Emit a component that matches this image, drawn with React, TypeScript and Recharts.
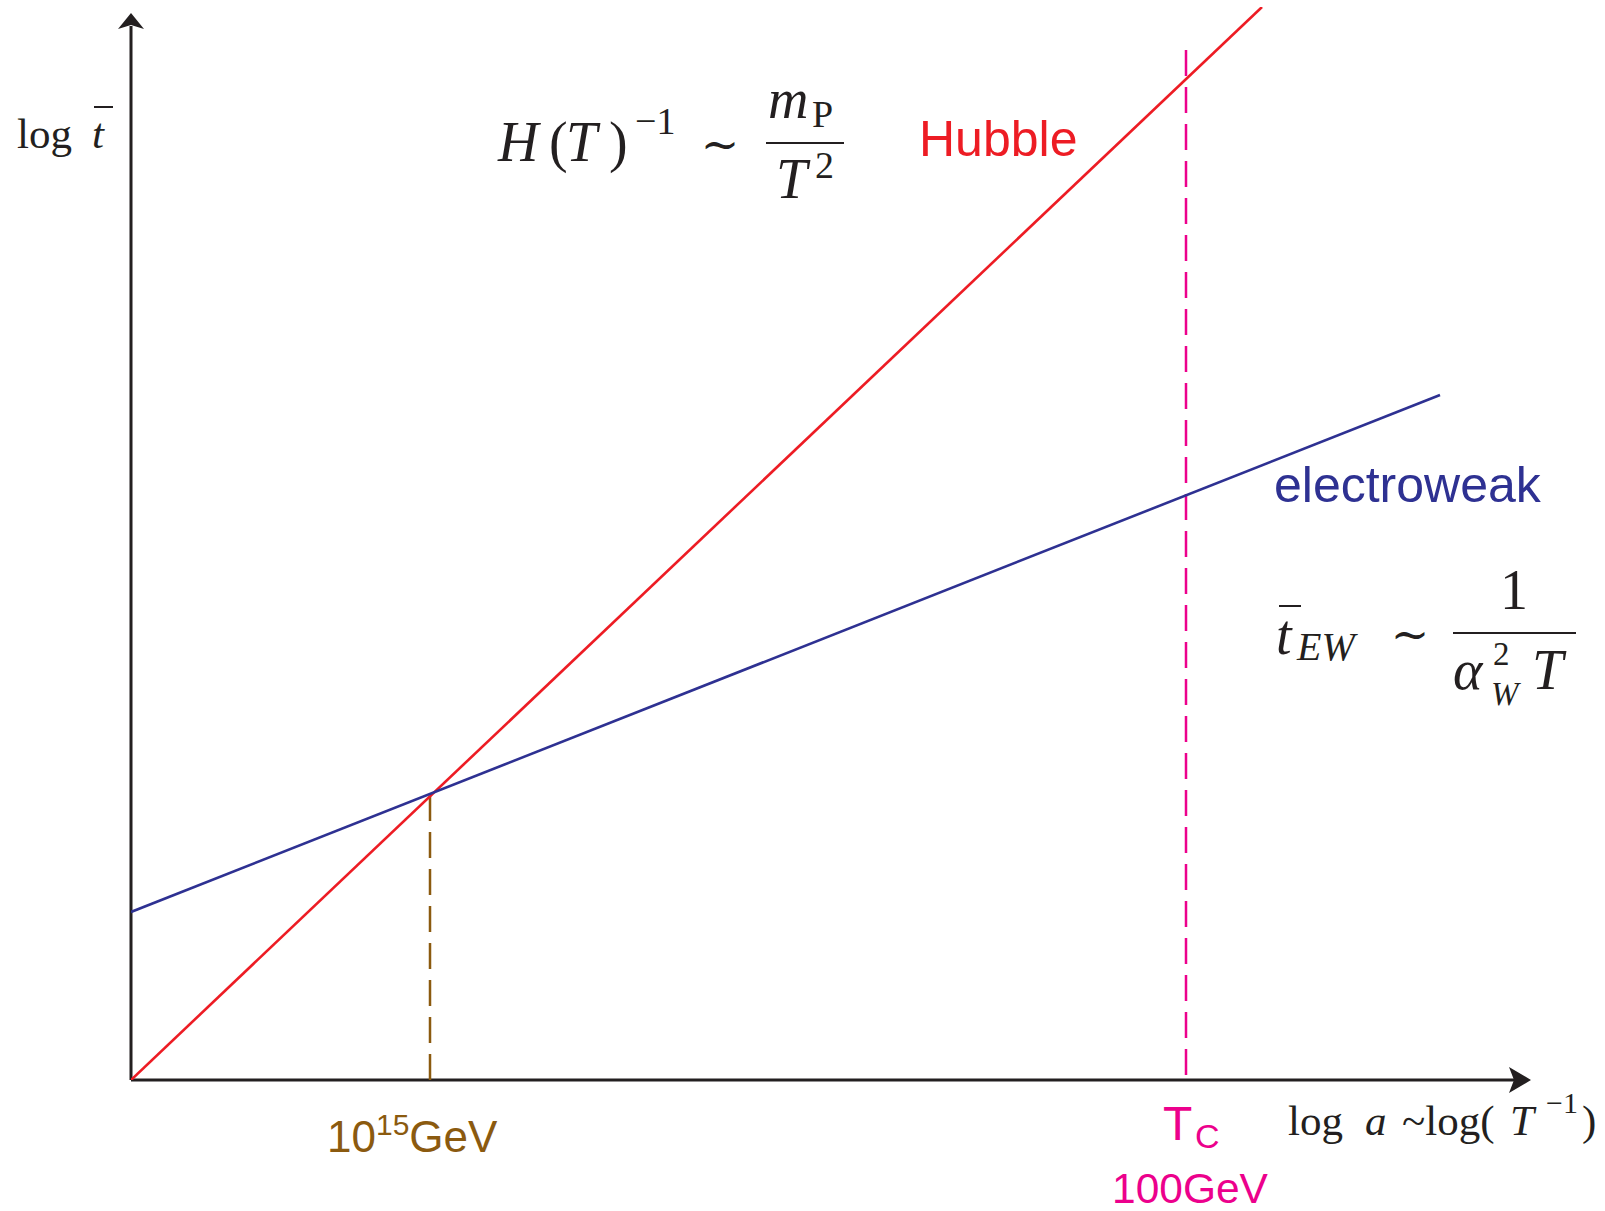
import React from 'react';
import { LineChart, Line, XAxis, YAxis, ReferenceLine, ReferenceDot } from 'recharts';

// log(T^-1) on x, log t on y (arbitrary units)
const hubble = [
  { x: 0, y: 0 },
  { x: 11.31, y: 10.73 },
];
const electroweak = [
  { x: 0, y: 1.68 },
  { x: 13.09, y: 6.85 },
];

// where the two curves cross (GUT scale) and the electroweak transition
const gutX = 2.99;
const gutY = 2.84;
const tcX = 10.55;
const tcTop = 10.38;

const xDomain = [0, 14];
const yDomain = [0, 10.73];
const yArrowTip = 10.67;
const xTicks = [gutX, tcX];

const INK = '#231f20';
const RED = '#ed1c24';
const BLUE = '#2e3192';
const MAGENTA = '#ec008c';
const BROWN = '#8b5a0f';
const SERIF = "'Liberation Serif', 'DejaVu Serif', serif";
const SANS = "'Liberation Sans', Arial, sans-serif";
const TILDE_FONT = "'DejaVu Serif', serif";

const RightArrow = (props: any) => {
  const { cx, cy } = props;
  return (
    <polygon
      points={`${cx},${cy} ${cx - 22},${cy - 13} ${cx - 17},${cy} ${cx - 22},${cy + 13}`}
      fill={INK}
    />
  );
};

const UpArrow = (props: any) => {
  const { cx, cy } = props;
  return (
    <polygon
      points={`${cx},${cy} ${cx - 13},${cy + 16} ${cx},${cy + 12} ${cx + 13},${cy + 16}`}
      fill={INK}
    />
  );
};

// labels under the x axis at the two marked temperatures
const BottomTick = (props: any) => {
  const { x, y, payload } = props;
  if (payload.value === gutX) {
    return (
      <text x={x - 103} y={y + 72} fill={BROWN} fontFamily={SANS} fontSize={44}>
        10
        <tspan fontSize={30} dy={-17}>15</tspan>
        <tspan dy={17}>GeV</tspan>
      </text>
    );
  }
  return (
    <g fill={MAGENTA} fontFamily={SANS}>
      <text x={x - 23} y={y + 60} fontSize={48}>T</text>
      <text x={x + 9} y={y + 68} fontSize={34}>C</text>
      <text x={x - 74} y={y + 123} fontSize={42.5}>100GeV</text>
    </g>
  );
};

function Annotations() {
  return (
    <svg
      width={1605}
      height={1211}
      style={{ position: 'absolute', left: 0, top: 0, pointerEvents: 'none' }}
    >
      {/* y axis label */}
      <g fill={INK} fontFamily={SERIF} fontSize={43}>
        <text x={17} y={148}>log</text>
        <text x={92} y={148} fontStyle="italic">t</text>
        <line x1={94} y1={107} x2={113} y2={107} stroke={INK} strokeWidth={2} />
      </g>

      {/* H(T)^-1 ~ m_P / T^2 */}
      <g fill={INK} fontFamily={SERIF} fontSize={56}>
        <text x={498} y={161} fontStyle="italic">H</text>
        <text x={549} y={161}>(</text>
        <text x={566} y={161} fontStyle="italic">T</text>
        <text x={609} y={161}>)</text>
        <text x={635} y={134} fontSize={38}>−1</text>
        <text x={720} y={160} fontSize={46} fontFamily={TILDE_FONT} textAnchor="middle">∼</text>
        <line x1={766} y1={143} x2={844} y2={143} stroke={INK} strokeWidth={1.8} />
        <text x={768} y={118} fontStyle="italic">m</text>
        <text x={812} y={127} fontSize={38}>P</text>
        <text x={776} y={198} fontStyle="italic">T</text>
        <text x={815} y={178} fontSize={38}>2</text>
      </g>

      <text x={919} y={156} fill={RED} fontFamily={SANS} fontSize={50}>Hubble</text>
      <text x={1274} y={502} fill={BLUE} fontFamily={SANS} fontSize={50}>electroweak</text>

      {/* t_EW ~ 1 / (alpha_W^2 T) */}
      <g fill={INK} fontFamily={SERIF} fontSize={56}>
        <text x={1276} y={654} fontStyle="italic">t</text>
        <line x1={1279} y1={606} x2={1301} y2={606} stroke={INK} strokeWidth={2} />
        <text x={1297} y={660} fontSize={40} fontStyle="italic">EW</text>
        <text x={1410} y={650} fontSize={46} fontFamily={TILDE_FONT} textAnchor="middle">∼</text>
        <line x1={1453} y1={633} x2={1576} y2={633} stroke={INK} strokeWidth={1.8} />
        <text x={1514} y={609} textAnchor="middle">1</text>
        <text x={1453} y={689} fontStyle="italic">α</text>
        <text x={1493} y={665} fontSize={33}>2</text>
        <text x={1491} y={705} fontSize={33} fontStyle="italic">W</text>
        <text x={1532} y={689} fontStyle="italic">T</text>
      </g>

      {/* x axis label */}
      <g fill={INK} fontFamily={SERIF} fontSize={43}>
        <text x={1288} y={1135}>log</text>
        <text x={1365} y={1135} fontStyle="italic">a</text>
        <text x={1402} y={1135}>~log(</text>
        <text x={1510} y={1135} fontStyle="italic">T</text>
        <text x={1546} y={1113} fontSize={30}>−1</text>
        <text x={1582} y={1135}>)</text>
      </g>
    </svg>
  );
}

export default function App() {
  return (
    <div style={{ position: 'absolute', left: 0, top: 0, width: 1605, height: 1211, background: '#fff' }}>
      <LineChart
        width={1605}
        height={1211}
        margin={{ top: 7, right: 74, left: 131, bottom: 0 }}
      >
        <XAxis
          type="number"
          dataKey="x"
          domain={xDomain}
          ticks={xTicks}
          interval={0}
          height={131}
          axisLine={false}
          tickLine={false}
          tickSize={0}
          tickMargin={0}
          tick={<BottomTick />}
          allowDataOverflow
        />
        <YAxis type="number" dataKey="y" domain={yDomain} hide allowDataOverflow />

        {/* axes with arrowheads */}
        <ReferenceLine
          segment={[{ x: 0, y: 0 }, { x: xDomain[1] - 0.17, y: 0 }]}
          stroke={INK}
          strokeWidth={3}
          ifOverflow="visible"
        />
        <ReferenceLine
          segment={[{ x: 0, y: 0 }, { x: 0, y: yArrowTip - 0.13 }]}
          stroke={INK}
          strokeWidth={3}
          ifOverflow="visible"
        />
        <ReferenceDot x={xDomain[1]} y={0} r={0} shape={<RightArrow />} ifOverflow="visible" />
        <ReferenceDot x={0} y={yArrowTip} r={0} shape={<UpArrow />} ifOverflow="visible" />

        <ReferenceLine
          segment={[{ x: gutX, y: 0 }, { x: gutX, y: gutY }]}
          stroke={BROWN}
          strokeWidth={2.5}
          strokeDasharray="26 11"
          ifOverflow="visible"
        />
        <ReferenceLine
          segment={[{ x: tcX, y: 0.05 }, { x: tcX, y: tcTop }]}
          stroke={MAGENTA}
          strokeWidth={2.5}
          strokeDasharray="26 11"
          ifOverflow="visible"
        />

        <Line
          data={hubble}
          dataKey="y"
          type="linear"
          stroke={RED}
          strokeWidth={2.6}
          dot={false}
          activeDot={false}
          isAnimationActive={false}
        />
        <Line
          data={electroweak}
          dataKey="y"
          type="linear"
          stroke={BLUE}
          strokeWidth={2.6}
          dot={false}
          activeDot={false}
          isAnimationActive={false}
        />
      </LineChart>
      <Annotations />
    </div>
  );
}
